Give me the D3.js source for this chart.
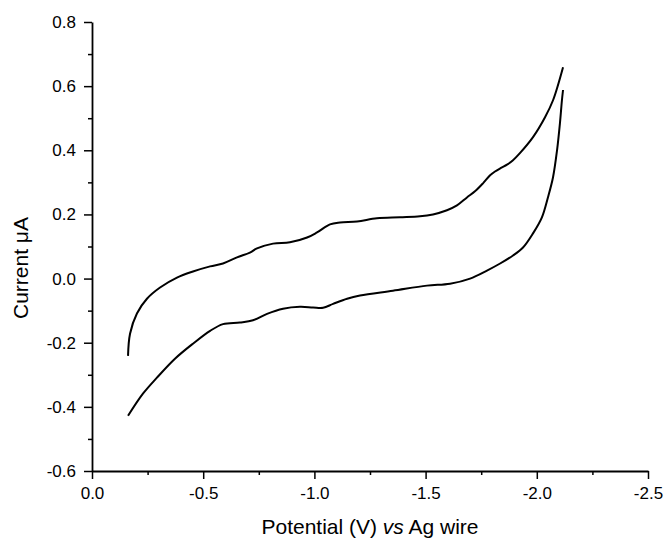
<!DOCTYPE html>
<html>
<head>
<meta charset="utf-8">
<script src="https://cdn.jsdelivr.net/npm/d3@7"></script>
<style>
  html, body { margin: 0; padding: 0; background: #fff; }
  svg { display: block; }
  text { font-family: "Liberation Sans", Arial, sans-serif; fill: #000; }
</style>
</head>
<body>
<svg id="chart" width="668" height="542"></svg>
<script>
// Cyclic voltammogram: forward (cathodic) sweep and return sweep
const forwardPotential = [-0.162, -0.171, -0.202, -0.247, -0.306, -0.382, -0.454, -0.531, -0.589, -0.652,
  -0.710, -0.742, -0.814, -0.890, -0.967, -1.012, -1.070, -1.115, -1.192, -1.281,
  -1.385, -1.475, -1.533, -1.596, -1.641, -1.686, -1.722, -1.758, -1.790, -1.812,
  -1.839, -1.866, -1.893, -1.924, -1.983, -2.037, -2.073, -2.118];
const forwardCurrent = [-0.241, -0.172, -0.109, -0.063, -0.028, 0.003, 0.022, 0.038, 0.047, 0.066,
  0.081, 0.094, 0.109, 0.113, 0.128, 0.144, 0.169, 0.175, 0.178, 0.188,
  0.191, 0.194, 0.200, 0.213, 0.228, 0.253, 0.272, 0.297, 0.322, 0.334,
  0.345, 0.355, 0.369, 0.391, 0.441, 0.503, 0.556, 0.659];

const reversePotential = [-2.118, -2.113, -2.104, -2.091, -2.073, -2.050, -2.023, -1.983, -1.938, -1.893,
  -1.835, -1.776, -1.700, -1.610, -1.506, -1.353, -1.205, -1.147, -1.084, -1.039,
  -0.994, -0.935, -0.859, -0.787, -0.724, -0.665, -0.589, -0.531, -0.454, -0.373,
  -0.292, -0.229, -0.162];
const reverseCurrent = [0.588, 0.556, 0.484, 0.400, 0.316, 0.253, 0.191, 0.141, 0.097, 0.072,
  0.047, 0.025, 0.000, -0.016, -0.022, -0.038, -0.053, -0.063, -0.079, -0.091,
  -0.090, -0.088, -0.094, -0.110, -0.130, -0.137, -0.142, -0.163, -0.203, -0.250,
  -0.309, -0.359, -0.428];

const xTickValues = [0, -0.5, -1.0, -1.5, -2.0, -2.5];
const xTickLabels = ["0.0", "-0.5", "-1.0", "-1.5", "-2.0", "-2.5"];
const xMinorValues = [-0.25, -0.75, -1.25, -1.75, -2.25];
const yTickValues = [-0.6, -0.4, -0.2, 0.0, 0.2, 0.4, 0.6, 0.8];
const yTickLabels = ["-0.6", "-0.4", "-0.2", "0.0", "0.2", "0.4", "0.6", "0.8"];
const yMinorValues = [-0.5, -0.3, -0.1, 0.1, 0.3, 0.5, 0.7];

const svg = d3.select("#chart");
const plot = { left: 92, right: 648, top: 22, bottom: 471 };

const x = d3.scaleLinear().domain([0, -2.5]).range([plot.left, plot.right]);
const y = d3.scaleLinear().domain([-0.6, 0.8]).range([plot.bottom, plot.top]);

// Minor ticks
svg.append("g")
  .attr("transform", `translate(0,${plot.bottom})`)
  .call(d3.axisBottom(x).tickValues(xMinorValues).tickSize(4).tickFormat(""))
  .call(g => g.select(".domain").remove())
  .call(g => g.selectAll("line").attr("stroke-width", 1.5));
svg.append("g")
  .attr("transform", `translate(${plot.left},0)`)
  .call(d3.axisLeft(y).tickValues(yMinorValues).tickSize(4).tickFormat(""))
  .call(g => g.select(".domain").remove())
  .call(g => g.selectAll("line").attr("stroke-width", 1.5));

// Major axes
const xAxis = svg.append("g")
  .attr("transform", `translate(0,${plot.bottom})`)
  .call(d3.axisBottom(x).tickValues(xTickValues).tickSize(8).tickSizeOuter(0).tickPadding(8)
    .tickFormat((d, i) => xTickLabels[i]));
const yAxis = svg.append("g")
  .attr("transform", `translate(${plot.left},0)`)
  .call(d3.axisLeft(y).tickValues(yTickValues).tickSize(8).tickSizeOuter(0).tickPadding(8)
    .tickFormat((d, i) => yTickLabels[i]));

[xAxis, yAxis].forEach(g => {
  g.select(".domain").attr("stroke-width", 1.8);
  g.selectAll(".tick line").attr("stroke-width", 1.5);
  g.selectAll(".tick text")
    .style("font-family", "'Liberation Sans', Arial, sans-serif")
    .style("font-size", "17px");
});

// Curves
const line = d3.line()
  .x(d => x(d[0]))
  .y(d => y(d[1]))
  .curve(d3.curveCatmullRom.alpha(0.5));

const forward = forwardPotential.map((v, i) => [v, forwardCurrent[i]]);
const reverse = reversePotential.map((v, i) => [v, reverseCurrent[i]]);

svg.append("g")
  .selectAll("path")
  .data([forward, reverse])
  .join("path")
  .attr("d", line)
  .attr("fill", "none")
  .attr("stroke", "#000")
  .attr("stroke-width", 2)
  .attr("stroke-linejoin", "round");

// Axis titles
const xTitle = svg.append("text")
  .attr("x", 370)
  .attr("y", 534)
  .attr("text-anchor", "middle")
  .style("font-size", "21px");
xTitle.append("tspan").text("Potential (V) ");
xTitle.append("tspan").style("font-style", "italic").text("vs");
xTitle.append("tspan").text(" Ag wire");

svg.append("text")
  .attr("transform", "translate(28,268) rotate(-90)")
  .attr("text-anchor", "middle")
  .style("font-size", "21px")
  .text("Current \u03bcA");
</script>
</body>
</html>
